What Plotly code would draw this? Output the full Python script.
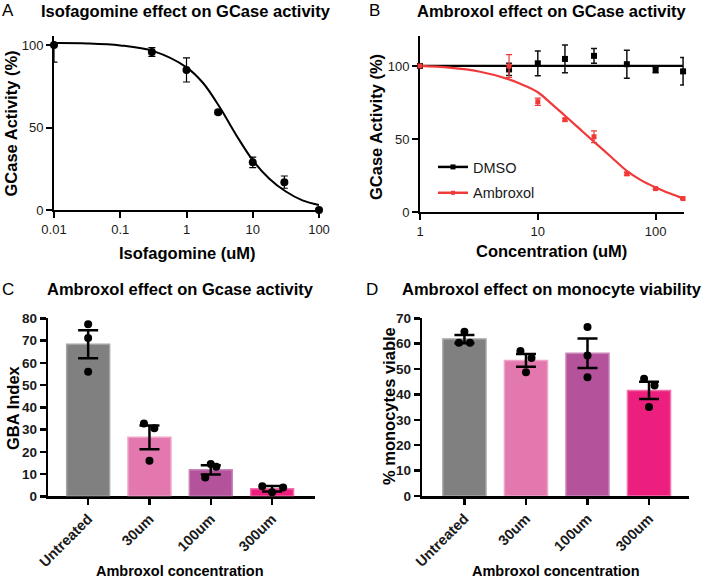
import plotly.graph_objects as go

W, H = 709, 578
FONT = "Liberation Sans, Arial, sans-serif"

# ---------------- Panel A data ----------------
iso_conc = [0.01, 0.3, 1, 3, 10, 30, 100]
iso_mean = [100, 95.8, 84.9, 59.3, 28.9, 16.9, 0]
iso_err_up = [0, 2.7, 7.3, 1.2, 3.2, 3.7, 0.8]
iso_err_down = [10.3, 2.7, 7.3, 1.2, 3.2, 3.7, 0.8]
iso_fit_x = [0.01, 0.0316, 0.1, 0.316, 1, 1.78, 3.16, 5.62, 10, 17.8, 31.6, 56.2, 100]
iso_fit_y = [101.2, 101.0, 99.8, 96.3, 86.5, 77.0, 62.4, 45.5, 30.2, 19.0, 11.2, 5.8, 3.0]

# ---------------- Panel B data ----------------
amb_conc = [1, 5.7, 10, 17, 30, 57, 100, 171]
dmso_mean = [100, 97.6, 101.8, 104.8, 106.9, 101.2, 97.3, 96.3]
dmso_err = [0, 4.2, 8.5, 9.5, 5.0, 9.6, 2.0, 9.4]
ambx_mean = [100, 99.9, 75.5, 63.2, 51.5, 26.1, 16.0, 9.2]
ambx_err = [0, 7.8, 2.5, 1.0, 4.0, 1.0, 0.6, 0.6]
dmso_fit_x = [1, 171]
dmso_fit_y = [100, 100]
ambx_fit_x = [1, 1.78, 3.16, 5.62, 7.5, 10, 13.3, 17.8, 23.7, 31.6, 42.2, 56.2, 75, 100, 133, 171]
ambx_fit_y = [100, 98.8, 96.2, 91.0, 87.0, 82.0, 73.5, 64.5, 55.5, 46.5, 37.5, 28.5, 21.8, 16.8, 12.6, 9.3]

# ---------------- Panel C / D data ----------------
categories = ["Untreated", "30um", "100um", "300um"]
gba_mean = [68.3, 26.5, 11.9, 3.4]
gba_sem = [6.3, 5.3, 2.05, 1.2]
gba_points = [[77.3, 71.2, 56.0], [32.7, 30.6, 16.0], [14.5, 13.3, 8.4], [4.5, 4.0, 1.8]]
via_mean = [61.8, 53.4, 56.2, 41.6]
via_sem = [1.6, 2.5, 5.8, 3.4]
via_points = [[64.7, 60.4, 60.4], [57.1, 54.4, 48.7], [66.6, 55.3, 46.8], [46.2, 43.5, 35.1]]

# styling (horizontal scatter of replicate dots, bar colours)
gba_jitter = [[0, 0, 0], [-0.09, 0.08, 0], [0, 0.09, -0.09], [-0.16, 0.18, 0]]
via_jitter = [[0, -0.09, 0.09], [-0.09, 0.09, 0], [0, 0, 0], [-0.08, 0.09, 0]]
bar_colors = ["#808080", "#e278ad", "#b4539b", "#ec1e7e"]
bar_edges = ["#a3a3a3", "#eea3c8", "#c985b9", "#f172aa"]
RED = "#f03a3a"

fig = go.Figure()

def px(x):
    return x / W

def py(y):
    return 1 - y / H

# ----- Panel A -----
fig.add_trace(go.Scatter(x=iso_fit_x, y=iso_fit_y, mode="lines",
                         line=dict(color="black", width=2, shape="spline", smoothing=1.0),
                         xaxis="x", yaxis="y", showlegend=False, hoverinfo="skip"))
fig.add_trace(go.Scatter(x=iso_conc, y=iso_mean, mode="markers",
                         marker=dict(color="black", size=8),
                         error_y=dict(type="data", array=iso_err_up, arrayminus=iso_err_down,
                                      symmetric=False, color="black", thickness=1.2, width=3.5),
                         cliponaxis=False, xaxis="x", yaxis="y", showlegend=False))

# ----- Panel B -----
fig.add_trace(go.Scatter(x=dmso_fit_x, y=dmso_fit_y, mode="lines",
                         line=dict(color="black", width=2.2),
                         xaxis="x2", yaxis="y2", showlegend=False, hoverinfo="skip"))
fig.add_trace(go.Scatter(x=ambx_fit_x, y=ambx_fit_y, mode="lines",
                         line=dict(color=RED, width=2.2, shape="spline", smoothing=1.0),
                         xaxis="x2", yaxis="y2", showlegend=False, hoverinfo="skip"))
fig.add_trace(go.Scatter(x=amb_conc, y=dmso_mean, mode="markers",
                         marker=dict(color="black", size=6, symbol="square"),
                         error_y=dict(type="data", array=dmso_err, color="#111111", thickness=1.5, width=3),
                         cliponaxis=False, xaxis="x2", yaxis="y2", showlegend=False))
fig.add_trace(go.Scatter(x=amb_conc, y=ambx_mean, mode="markers",
                         marker=dict(color=RED, size=5, symbol="square"),
                         error_y=dict(type="data", array=ambx_err, color=RED, thickness=1.2, width=3),
                         cliponaxis=False, xaxis="x2", yaxis="y2", showlegend=False))
# legend entries
fig.add_trace(go.Scatter(x=[None], y=[None], mode="lines+markers", name="DMSO",
                         line=dict(color="black", width=2.5),
                         marker=dict(color="black", size=5, symbol="square"),
                         xaxis="x2", yaxis="y2", legendgroup="a"))
fig.add_trace(go.Scatter(x=[None], y=[None], mode="lines+markers", name="Ambroxol",
                         line=dict(color=RED, width=2.5),
                         marker=dict(color=RED, size=4, symbol="square"),
                         xaxis="x2", yaxis="y2", legendgroup="b"))

# ----- Panels C & D -----
def bar_panel(means, sems, points, jitter, xa, ya):
    idx = list(range(len(categories)))
    fig.add_trace(go.Bar(x=idx, y=means, width=0.7,
                         marker=dict(color=bar_colors, line=dict(color=bar_edges, width=1.5)),
                         error_y=dict(type="data", array=sems, color="black", thickness=2.5, width=10),
                         xaxis=xa, yaxis=ya, showlegend=False))
    xs, ys = [], []
    for i, (pts, jit) in enumerate(zip(points, jitter)):
        for v, j in zip(pts, jit):
            xs.append(i + j)
            ys.append(v)
    fig.add_trace(go.Scatter(x=xs, y=ys, mode="markers",
                             marker=dict(color="black", size=8),
                             cliponaxis=False, xaxis=xa, yaxis=ya, showlegend=False))

bar_panel(gba_mean, gba_sem, gba_points, gba_jitter, "x3", "y3")
bar_panel(via_mean, via_sem, via_points, via_jitter, "x4", "y4")

tickfont_ab = dict(family=FONT, size=13, color="#1a1a1a")
tickfont_cdx = dict(family=FONT, size=14.5, color="#1a1a1a", weight="bold")
tickfont_cdy = dict(family=FONT, size=13.5, color="#1a1a1a", weight="bold")

common = dict(showline=True, linecolor="black", ticks="outside", ticklen=6,
              tickcolor="black", showgrid=False, zeroline=False, layer="below traces",
              fixedrange=True, automargin=False)

fig.update_layout(
    template="none",
    width=W, height=H, margin=dict(l=0, r=0, t=0, b=0, pad=0), autosize=False,
    paper_bgcolor="white", plot_bgcolor="white",
    font=dict(family=FONT, color="black"),
    xaxis=dict(domain=[px(54), px(319)], type="log", range=[-2, 2],
               tickvals=[0.01, 0.1, 1, 10, 100], ticktext=["0.01", "0.1", "1", "10", "100"],
               linewidth=2, tickwidth=2, tickfont=tickfont_ab, anchor="y", **common),
    yaxis=dict(domain=[py(210), py(36)], range=[0, 105.5], tickvals=[0, 50, 100],
               linewidth=2, tickwidth=2, tickfont=tickfont_ab, anchor="x", **common),
    xaxis2=dict(domain=[px(420), px(684)], type="log", range=[0, 2.241],
                tickvals=[1, 10, 100], ticktext=["1", "10", "100"],
                linewidth=2, tickwidth=2, tickfont=tickfont_ab, anchor="y2", **common),
    yaxis2=dict(domain=[py(212), py(36)], range=[0, 120.5], tickvals=[0, 50, 100],
                linewidth=2, tickwidth=2, tickfont=tickfont_ab, anchor="x2", **common),
    xaxis3=dict(domain=[px(48.3), px(315)], range=[-0.65, 3.70],
                tickvals=[0, 1, 2, 3], ticktext=categories, tickangle=-45,
                linewidth=2.5, tickwidth=2.5, tickfont=tickfont_cdx, anchor="y3", **common),
    yaxis3=dict(domain=[py(496.3), py(318.3)], range=[0, 80], dtick=10,
                linewidth=2.5, tickwidth=2.5, tickfont=tickfont_cdy, anchor="x3", **common),
    xaxis4=dict(domain=[px(422.3), px(689)], range=[-0.685, 3.65],
                tickvals=[0, 1, 2, 3], ticktext=categories, tickangle=-45,
                linewidth=2.5, tickwidth=2.5, tickfont=tickfont_cdx, anchor="y4", **common),
    yaxis4=dict(domain=[py(496), py(318.3)], range=[0, 70], dtick=10,
                linewidth=2.5, tickwidth=2.5, tickfont=tickfont_cdy, anchor="x4", **common),
    legend=dict(x=px(433), y=py(151), xanchor="left", yanchor="top",
                font=dict(family=FONT, size=14.5, color="#1a1a1a"),
                bgcolor="rgba(0,0,0,0)", itemwidth=30, tracegroupgap=4,
                itemclick=False, itemdoubleclick=False),
    bargap=0.3,
    showlegend=True,
)

def ann(text, x, y, size, bold=True, angle=0):
    fig.add_annotation(text=text, x=px(x), y=py(y), xref="paper", yref="paper",
                       xanchor="center", yanchor="middle", showarrow=False, textangle=angle,
                       font=dict(family=FONT, size=size, color="black",
                                 weight="bold" if bold else "normal"))

# panel letters
ann("A", 8, 11, 17, bold=False)
ann("B", 375, 11, 17, bold=False)
ann("C", 8, 289, 17, bold=False)
ann("D", 372, 289, 17, bold=False)
# panel titles
ann("Isofagomine effect on GCase activity", 186.5, 10.5, 16.5)
ann("Ambroxol effect on GCase activity", 551, 10.5, 16.5)
ann("Ambroxol effect on Gcase activity", 180, 289, 16.5)
ann("Ambroxol effect on monocyte viability", 552, 289, 16.5)
# axis titles
ann("GCase Activity (%)", 10, 123.5, 16.5, angle=-90)
ann("Isofagomine (uM)", 187.5, 253, 16.5)
ann("GCase Activity (%)", 376, 127, 16.5, angle=-90)
ann("Concentration (uM)", 551, 251, 16.5)
ann("GBA Index", 13, 408, 16.5, angle=-90)
ann("Ambroxol concentration", 180, 570.5, 14.5)
ann("% monocytes viable", 389, 406, 16.5, angle=-90)
ann("Ambroxol concentration", 556, 570.5, 14.5)

fig.write_html("out.html",
               config={"displayModeBar": False, "staticPlot": True},
               post_script="document.body.style.margin='0';document.body.style.padding='0';"
                           "document.documentElement.style.overflow='hidden';")
